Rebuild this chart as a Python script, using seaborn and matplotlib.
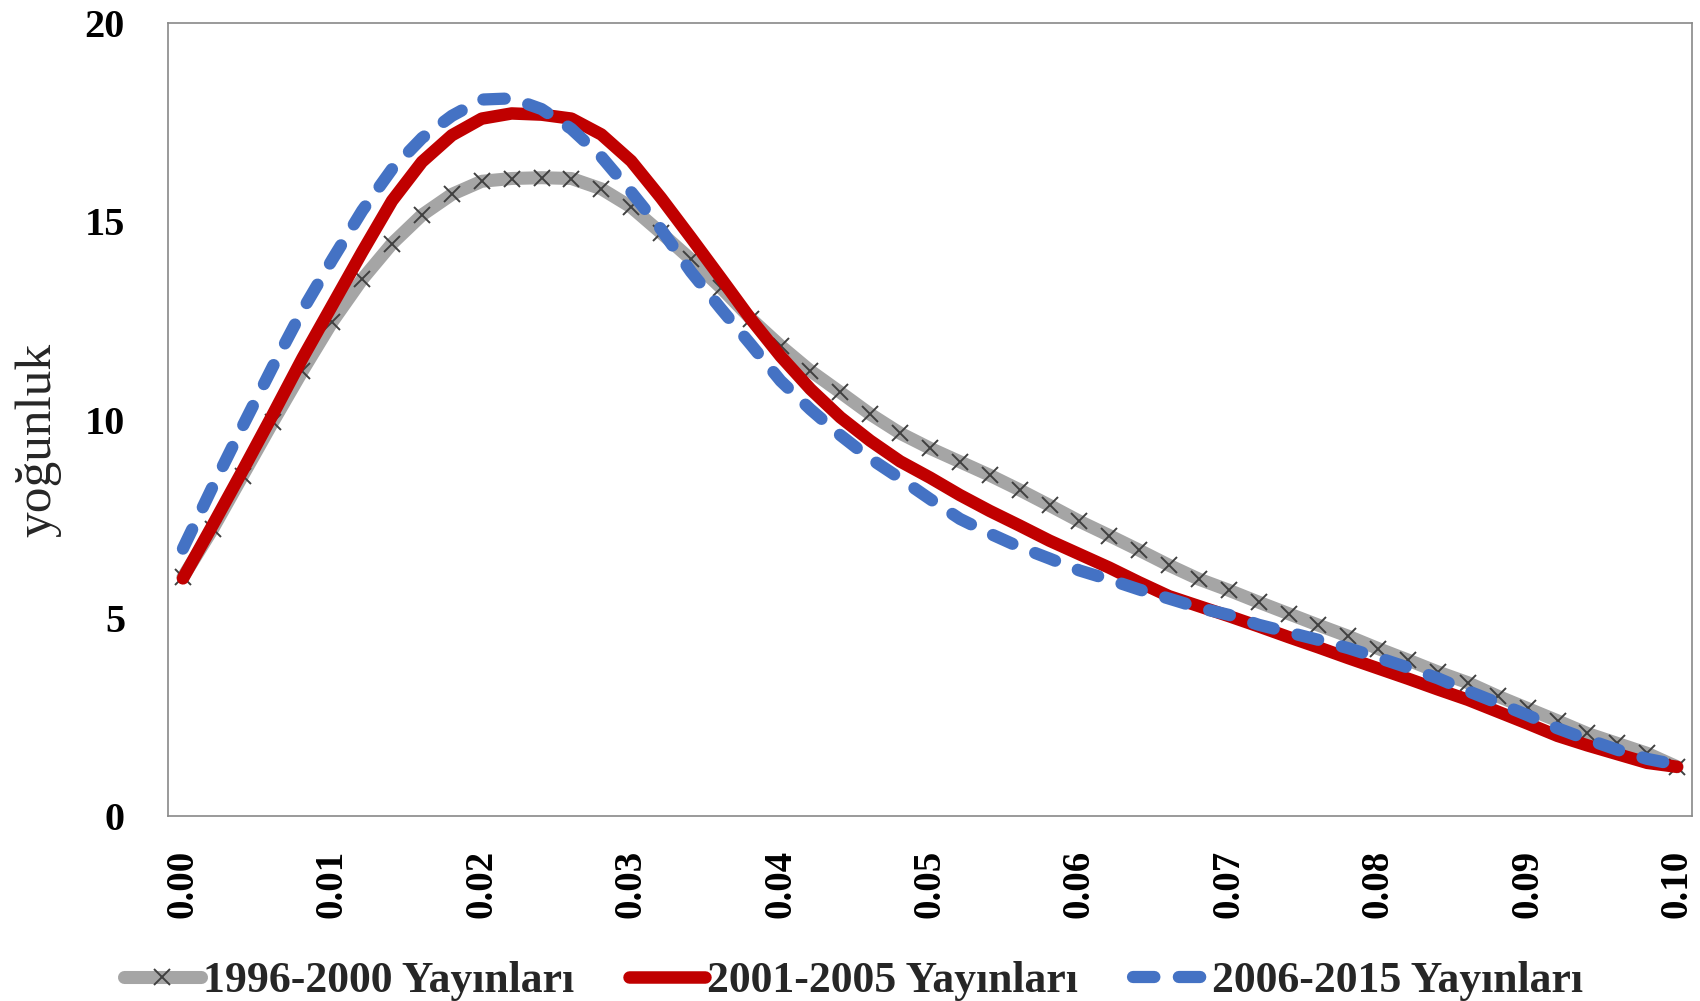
import numpy as np
import pandas as pd
import matplotlib
matplotlib.use("Agg")
import matplotlib.pyplot as plt
import seaborn as sns

# ---- data ----
x_vals = np.round(np.linspace(0.0, 0.10, 51), 3)

s1996 = [6.03, 7.25, 8.59, 9.93, 11.23, 12.47, 13.54, 14.44, 15.16, 15.68,
         16.01, 16.08, 16.10, 16.08, 15.82, 15.36, 14.71, 14.04, 13.33, 12.55,
         11.86, 11.23, 10.69, 10.14, 9.66, 9.28, 8.94, 8.60, 8.23, 7.84,
         7.44, 7.08, 6.71, 6.33, 5.98, 5.70, 5.40, 5.11, 4.82, 4.54,
         4.23, 3.94, 3.64, 3.37, 3.03, 2.72, 2.41, 2.09, 1.84, 1.59, 1.25]

s2001 = [6.00, 7.35, 8.72, 10.12, 11.55, 12.89, 14.23, 15.52, 16.50, 17.17,
         17.59, 17.72, 17.69, 17.59, 17.19, 16.52, 15.59, 14.59, 13.57, 12.54,
         11.60, 10.77, 10.06, 9.47, 8.95, 8.54, 8.10, 7.70, 7.33, 6.95,
         6.61, 6.27, 5.90, 5.55, 5.30, 5.05, 4.79, 4.52, 4.26, 3.99,
         3.73, 3.47, 3.20, 2.94, 2.64, 2.34, 2.03, 1.79, 1.57, 1.35, 1.25]

s2006 = [6.75, 8.32, 9.84, 11.33, 12.76, 14.04, 15.27, 16.32, 17.10, 17.66,
         18.07, 18.10, 17.83, 17.33, 16.63, 15.74, 14.80, 13.73, 12.80, 11.90,
         10.98, 10.26, 9.61, 9.02, 8.52, 8.00, 7.50, 7.13, 6.79, 6.50,
         6.20, 5.97, 5.72, 5.49, 5.26, 5.08, 4.83, 4.64, 4.45, 4.24,
         4.00, 3.75, 3.48, 3.16, 2.86, 2.55, 2.22, 1.94, 1.68, 1.45, 1.30]

labels = ["1996-2000 Yayınları", "2001-2005 Yayınları", "2006-2015 Yayınları"]
x_ticks = [0.00, 0.01, 0.02, 0.03, 0.04, 0.05, 0.06, 0.07, 0.08, 0.09, 0.10]
x_tick_labels = ["0.00", "0.01", "0.02", "0.03", "0.04", "0.05",
                 "0.06", "0.07", "0.08", "0.09", "0.10"]
y_ticks = [0, 5, 10, 15, 20]

# ---- style ----
sns.set_theme(style="white")
plt.rcParams["font.family"] = ["Liberation Serif", "DejaVu Serif"]

fig = plt.figure(figsize=(17.0, 10.01), dpi=100)
ax = fig.add_axes([168 / 1700, 1 - 816.4 / 1001, (1692 - 168) / 1700, (816.4 - 23) / 1001])

df1 = pd.DataFrame({"x": x_vals, "y": s1996})
df2 = pd.DataFrame({"x": x_vals, "y": s2001})
df3 = pd.DataFrame({"x": x_vals, "y": s2006})

sns.lineplot(data=df1, x="x", y="y", ax=ax, color="#A5A5A5", linewidth=9.4,
             marker="x", markersize=11.5, markeredgewidth=1.4,
             markeredgecolor="#404040", solid_capstyle="round",
             errorbar=None, label=labels[0], zorder=2)
sns.lineplot(data=df2, x="x", y="y", ax=ax, color="#C00000", linewidth=9.0,
             solid_capstyle="round", solid_joinstyle="round",
             errorbar=None, label=labels[1], zorder=3)
sns.lineplot(data=df3, x="x", y="y", ax=ax, color="#4472C4", linewidth=8.8,
             linestyle=(0, (1.75, 2.0)), dash_capstyle="round",
             dash_joinstyle="round",
             errorbar=None, label=labels[2], zorder=4)

ax.set_xlim(-0.001, 0.101)
ax.set_ylim(0, 20)
ax.set_xticks(x_ticks)
ax.set_xticklabels(x_tick_labels, rotation=90, fontsize=28, fontweight="bold")
ax.set_yticks(y_ticks)
ax.set_yticklabels([str(v) for v in y_ticks], fontsize=29, fontweight="bold")
ax.tick_params(axis="both", length=0, colors="black")
ax.tick_params(axis="y", pad=31)
ax.tick_params(axis="x", pad=24)
ax.set_xlabel("")
ax.set_ylabel("yoğunluk", fontsize=37)
ax.yaxis.set_label_coords(-0.07, 0.475)

for sp in ax.spines.values():
    sp.set_visible(True)
    sp.set_color("#898989")
    sp.set_linewidth(1.2)

handles, labs = ax.get_legend_handles_labels()
if ax.get_legend() is not None:
    ax.get_legend().remove()
fig.legend(handles, labs, loc="center", bbox_to_anchor=(0.502, 1 - 981 / 1001),
           ncol=3, frameon=False, handlelength=1.75, handletextpad=0.05,
           columnspacing=1.25, prop={"size": 31.5, "weight": "bold"})

fig.savefig("out.png", dpi=100)
